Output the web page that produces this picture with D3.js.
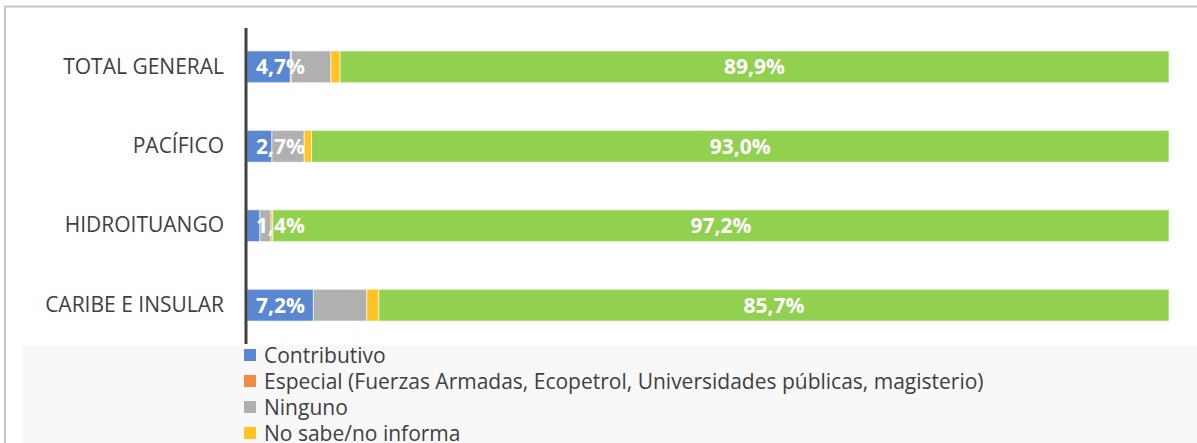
<!DOCTYPE html>
<html>
<head>
<meta charset="utf-8">
<script src="https://cdn.jsdelivr.net/npm/d3@7"></script>
<style>
  body { margin: 0; background: #fff; }
  svg { display: block; }
  text { font-family: "Open Sans", "Noto Sans", sans-serif; }
</style>
</head>
<body>
<div id="chart"></div>
<script>
// categorias (de arriba hacia abajo)
const categories = ["TOTAL GENERAL", "PACÍFICO", "HIDROITUANGO", "CARIBE E INSULAR"];
const seriesNames = [
  "Contributivo",
  "Especial (Fuerzas Armadas, Ecopetrol, Universidades públicas, magisterio)",
  "Ninguno",
  "No sabe/no informa",
  "Subsidiado"
];
const contributivo = [4.7, 2.7, 1.4, 7.2];
const especial     = [0.1, 0.0, 0.0, 0.0];
const ninguno      = [4.3, 3.5, 1.2, 5.8];
const noSabe       = [1.0, 0.8, 0.2, 1.3];
const subsidiado   = [89.9, 93.0, 97.2, 85.7];
const colors = ["#5a87d1", "#ef8a47", "#b0b0b0", "#ffc424", "#92d050"];

const W = 1197, H = 443;
const margin = { left: 247, right: 28, top: 28, bottom: 99 };

const svg = d3.select("#chart").append("svg")
  .attr("width", W)
  .attr("height", H);

// marco
svg.append("line").attr("x1", 4).attr("x2", W).attr("y1", 6.5).attr("y2", 6.5)
  .attr("stroke", "#c6c6c6").attr("stroke-width", 2);
svg.append("line").attr("x1", 5).attr("x2", 5).attr("y1", 6).attr("y2", H)
  .attr("stroke", "#c6c6c6").attr("stroke-width", 2);

const rows = categories.map((c, i) => ({
  cat: c,
  vals: [contributivo[i], especial[i], ninguno[i], noSabe[i], subsidiado[i]]
}));

const x = d3.scaleLinear().domain([0, 100]).range([margin.left, W - margin.right]);
const y = d3.scaleBand()
  .domain(categories)
  .range([29.5, 342.5])
  .paddingInner(0.6)
  .paddingOuter(0.27);

// barras apiladas
const g = svg.append("g");
rows.forEach(r => {
  let acc = 0;
  r.vals.forEach((v, k) => {
    const x0 = acc;
    acc += v;
    if (v <= 0) return;
    g.append("rect")
      .attr("x", x(x0))
      .attr("y", y(r.cat))
      .attr("width", x(acc) - x(x0))
      .attr("height", y.bandwidth())
      .attr("fill", colors[k])
      .attr("stroke", "#fff")
      .attr("stroke-opacity", 0.6)
      .attr("stroke-width", 1);
  });
});

// etiquetas de datos
const fmt = v => v.toFixed(1).replace(".", ",") + "%";
rows.forEach(r => {
  const cy = y(r.cat) + y.bandwidth() / 2;
  g.append("text")
    .attr("x", x(0) + 9)
    .attr("y", cy)
    .attr("dy", "0.36em")
    .attr("fill", "#fff")
    .attr("font-weight", "bold")
    .attr("font-size", 21)
    .text(fmt(r.vals[0]));
  const s = d3.sum(r.vals.slice(0, 4));
  g.append("text")
    .attr("x", (x(s) + x(100)) / 2)
    .attr("y", cy)
    .attr("dy", "0.36em")
    .attr("text-anchor", "middle")
    .attr("fill", "#fff")
    .attr("font-weight", "bold")
    .attr("font-size", 21)
    .text(fmt(r.vals[4]));
});

// eje de categorias
const yAxis = svg.append("g")
  .attr("transform", `translate(${margin.left - 1},0)`)
  .call(d3.axisLeft(y).tickSize(0).tickPadding(22));
yAxis.select(".domain").remove();
yAxis.selectAll("text")
  .attr("font-family", "\"Open Sans\", sans-serif")
  .attr("font-size", 21)
  .attr("fill", "#404040");
svg.append("line")
  .attr("x1", margin.left - 1).attr("x2", margin.left - 1)
  .attr("y1", margin.top).attr("y2", H - margin.bottom)
  .attr("stroke", "#404040").attr("stroke-width", 3);

// leyenda (solo caben las 4 primeras entradas en el recorte)
svg.append("rect")
  .attr("x", 22).attr("y", H - margin.bottom + 1)
  .attr("width", W - 22).attr("height", margin.bottom)
  .attr("fill", "#f8f8f8");
const leg = svg.append("g").attr("transform", "translate(244,355)");
seriesNames.slice(0, 4).forEach((n, k) => {
  const it = leg.append("g").attr("transform", `translate(0,${k * 26})`);
  it.append("rect").attr("x", 0).attr("y", -6).attr("width", 12).attr("height", 12)
    .attr("fill", colors[k]);
  it.append("text").attr("x", 20).attr("y", 0).attr("dy", "0.36em")
    .attr("font-size", 21).attr("fill", "#404040").text(n);
});
</script>
</body>
</html>
